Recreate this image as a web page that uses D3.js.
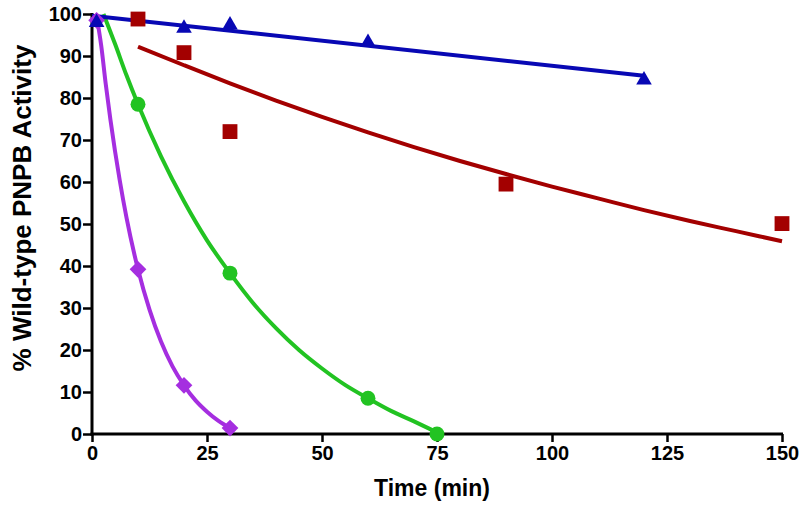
<!DOCTYPE html>
<html>
<head>
<meta charset="utf-8">
<script src="https://cdn.jsdelivr.net/npm/d3@7"></script>
<style>
  html, body { margin: 0; padding: 0; background: #fff; }
  svg { display: block; }
  text { font-family: "Liberation Sans", Arial, sans-serif; font-weight: bold; fill: #000; }
</style>
</head>
<body>
<svg id="chart" width="800" height="506"></svg>
<script>
// ---- data ----
const xTicks = [0, 25, 50, 75, 100, 125, 150];
const yTicks = [0, 10, 20, 30, 40, 50, 60, 70, 80, 90, 100];

// observed points (time in min, % activity)
const bluePoints   = [[1, 98.0], [20, 96.6], [30, 97.4], [60, 93.2], [120, 84.3]];
const redPoints    = [[10, 98.8], [20, 90.8], [30, 72.0], [90, 59.5], [150, 50.1]];
const greenPoints  = [[10, 78.5], [30, 38.3], [60, 8.5], [75, 0.0]];
const purplePoints = [[1, 98.5], [10, 39.2], [20, 11.6], [30, 1.4]];

// fitted curves
const blueFit   = [[0, 99.6], [120, 85.3]];
const redFit    = [[10, 92.2], [20, 87.8], [30, 83.5], [40, 79.4], [50, 75.5], [60, 71.8], [70, 68.3],
                   [80, 65.0], [90, 61.9], [100, 58.9], [110, 56.1], [120, 53.3], [130, 50.7], [140, 48.3], [150, 45.9]];
const greenFit  = [[2.5, 100], [5, 92.9], [7.5, 85.4], [10, 78.5], [15, 66.1], [20, 55.4], [25, 46.1], [30, 38.3],
                   [35, 31.2], [40, 25.2], [45, 20.0], [50, 15.6], [55, 11.7], [60, 8.5], [65, 5.5], [70, 3.0], [75, 0.4]];
const purpleFit = [[0.9, 100], [2, 92.5], [3, 83.2], [4, 74.9], [5, 67.4], [6, 60.6], [7.5, 51.5], [10, 39.2],
                   [12.5, 29.6], [15, 22.0], [17.5, 16.1], [20, 11.6], [22.5, 8.0], [25, 5.3], [27.5, 3.1], [30, 1.4]];

const colors = { blue: "#0808b4", red: "#a30000", green: "#22c322", purple: "#a52ee0" };

// ---- layout ----
const svg = d3.select("#chart");
const x = d3.scaleLinear().domain([0, 150]).range([92, 782]);
const y = d3.scaleLinear().domain([0, 100]).range([434, 14]);

// axes
const yAxis = d3.axisLeft(y).tickValues(yTicks).tickSize(9).tickPadding(1).tickSizeOuter(0);
const xAxis = d3.axisBottom(x).tickValues(xTicks).tickSize(8).tickPadding(4).tickSizeOuter(0);

const gy = svg.append("g").attr("transform", `translate(${x(0)},0)`).call(yAxis);
const gx = svg.append("g").attr("transform", `translate(0,${y(0)})`).call(xAxis);
[gx, gy].forEach(g => {
  g.select(".domain").attr("stroke", "#000").attr("stroke-width", 3);
  g.selectAll(".tick line").attr("stroke", "#000").attr("stroke-width", 2.5);
  g.selectAll(".tick text").style("font-size", "20px").style("font-family", "'Liberation Sans', Arial, sans-serif").style("font-weight", "bold").attr("fill", "#000");
});
gx.select(".domain").attr("d", `M${x(0) - 1.5},0H${x(150) + 1}`);
gy.select(".domain").attr("d", `M0,${y(100) - 1}V${y(0) + 1.5}`);

// axis titles
svg.append("text").attr("x", 432).attr("y", 496).attr("text-anchor", "middle")
  .style("font-size", "23px").text("Time (min)");
svg.append("text").attr("transform", "translate(31,208) rotate(-90)").attr("text-anchor", "middle")
  .style("font-size", "26px").text("% Wild-type PNPB Activity");

// curves
const line = d3.line().x(d => x(d[0])).y(d => y(d[1])).curve(d3.curveMonotoneX);
const series = [
  { fit: redFit, pts: redPoints, color: colors.red, sym: "square" },
  { fit: greenFit, pts: greenPoints, color: colors.green, sym: "circle" },
  { fit: purpleFit, pts: purplePoints, color: colors.purple, sym: "diamond" },
  { fit: blueFit, pts: bluePoints, color: colors.blue, sym: "triangle" }
];

const symbolFor = {
  square:   d3.symbol().type(d3.symbolSquare).size(220),
  circle:   d3.symbol().type(d3.symbolCircle).size(175),
  diamond:  d3.symbol().type(d3.symbolSquare).size(140),
  triangle: d3.symbol().type(d3.symbolTriangle).size(105)
};

series.forEach(s => {
  svg.append("path").datum(s.fit).attr("d", line)
    .attr("fill", "none").attr("stroke", s.color).attr("stroke-width", 4).attr("stroke-linecap", "butt");
});
series.forEach(s => {
  svg.append("g").selectAll("path").data(s.pts).join("path")
    .attr("d", symbolFor[s.sym]())
    .attr("transform", d => `translate(${x(d[0])},${y(d[1])})` + (s.sym === "diamond" ? " rotate(45)" : ""))
    .attr("fill", s.color);
});
</script>
</body>
</html>
